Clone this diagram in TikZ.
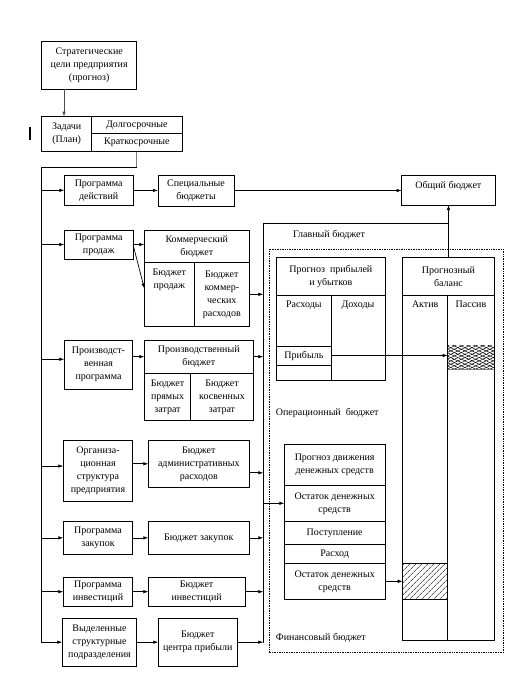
\documentclass[tikz,border=0pt]{standalone}
\usepackage{fontspec}
\setmainfont{Liberation Serif}
\usetikzlibrary{positioning, arrows.meta, patterns.meta}

\begin{document}
\begin{tikzpicture}[
  x=1pt, y=-1pt,
  font=\fontsize{10}{13}\selectfont,
  box/.style={draw, line width=0.8pt, outer sep=0pt, inner sep=1pt,
    align=center, anchor=north west},
  sz/.style 2 args={minimum width=#1pt, minimum height=#2pt},
  toptext/.style={label={[anchor=north, inner sep=1pt, yshift=-5pt,
    align=center]north:#1}},
  caption/.style={anchor=west, inner sep=0pt},
  arrow/.style={-{Latex[length=5pt, width=3.5pt]}, line width=0.7pt},
  line/.style={line width=0.7pt},
  hatch/.style={pattern={Lines[angle=45, distance=4pt, line width=0.5pt]}},
  cross/.style={pattern={Lines[angle=#1, distance=3pt, line width=0.5pt]}},
]
  \useasboundingbox (0,0) rectangle (531,677);

  \node[box, sz={95}{48}] (strat) at (41.7,41) {Стратегические\\цели предприятия\\(прогноз)};
  \node[box, sz={50}{35}] (zad) at (41.7,116.7) {Задачи\\(План)};
  \node[box, sz={90.3}{16.7}, right=0pt of zad.north east, anchor=north west] (dolg) {Долгосрочные};
  \node[box, sz={90.3}{18.3}, below=0pt of dolg.south west, anchor=north west] (krat) {Краткосрочные};

  \draw[line width=2.5pt] (30,126.5) -- (30,140);

  \node[box, sz={68.7}{30.7}] (pdeyst) at (64.3,175) {Программа\\действий};
  \node[box, sz={76}{31}, right=25pt of pdeyst.north east, anchor=north west] (spec) {Специальные\\бюджеты};
  \node[box, sz={93.3}{30}, toptext={Общий бюджет}] (obsh) at (401.7,175) {};

  \node[box, sz={68.7}{29}] (pprod) at (64.3,230) {Программа\\продаж};
  \node[box, sz={105}{32.7}, right=11.3pt of pprod.north east, anchor=north west] (komh) {Коммерческий\\бюджет};
  \node[box, sz={50}{63.3}, below=0pt of komh.south west, anchor=north west, toptext={Бюджет\\продаж}] (komA) {};
  \node[box, sz={55}{63.3}, right=0pt of komA.north east, anchor=north west] (komB) {Бюджет\\коммер-\\ческих\\расходов};

  \node[box, sz={68.4}{49.3}] (pproizv) at (64.3,340) {Производст-\\венная\\программа};
  \node[box, sz={109}{33.3}, right=11.6pt of pproizv.north east, anchor=north west] (prh) {Производственный\\бюджет};
  \node[box, sz={46.4}{47.4}, below=0pt of prh.south west, anchor=north west] (prA) {Бюджет\\прямых\\затрат};
  \node[box, sz={62.6}{47.4}, right=0pt of prA.north east, anchor=north west] (prB) {Бюджет\\косвенных\\затрат};

  \node[box, sz={69.4}{61.7}] (porg) at (63.3,440) {Организа-\\ционная\\структура\\предприятия};
  \node[box, sz={101}{47.6}, right=15.6pt of porg.north east, anchor=north west] (adm) {Бюджет\\административных\\расходов};

  \node[box, sz={69.4}{32.3}] (pzak) at (63.3,521.7) {Программа\\закупок};
  \node[box, sz={101}{32.3}, right=15.6pt of pzak.north east, anchor=north west] (bzak) {Бюджет закупок};

  \node[box, sz={69.4}{28.7}] (pinv) at (63.3,577.3) {Программа\\инвестиций};
  \node[box, sz={96.7}{28.7}, right=15.6pt of pinv.north east, anchor=north west] (binv) {Бюджет\\инвестиций};

  \node[box, sz={74.4}{47.7}] (pvyd) at (62.3,618.3) {Выделенные\\структурные\\подразделения};
  \node[box, sz={79}{47.7}, right=21.6pt of pvyd.north east, anchor=north west] (bcen) {Бюджет\\центра прибыли};

  \draw[densely dotted, line width=0.7pt] (269,249.3) rectangle (503,652.7);
  \node[caption] (tglav) at (293,235) {Главный бюджет};
  \node[caption] (toper) at (275.7,413.3) {Операционный\ \ бюджет};
  \node[caption] (tfin) at (275.7,638) {Финансовый бюджет};

  \node[box, sz={108.3}{37.7}] (ppu) at (276.7,257.3) {Прогноз\ \ прибылей\\и убытков};
  \node[box, sz={54.3}{51}, below=0pt of ppu.south west, anchor=north west, toptext=Расходы] (rash) {};
  \node[box, sz={54.3}{19}, below=0pt of rash.south west, anchor=north west] (prib) {Прибыль};
  \node[box, sz={54.3}{15}, below=0pt of prib.south west, anchor=north west] (pust1) {};
  \node[box, sz={54}{60}, right=0pt of rash.north east, anchor=north west, toptext=Доходы] (doh) {};
  \node[box, sz={54}{25}, below=0pt of doh.south west, anchor=north west] (pust2) {};

  \node[box, sz={91.6}{37.7}] (bal) at (402.7,257.3) {Прогнозный\\баланс};
  \node[box, sz={45}{345}, below=0pt of bal.south west, anchor=north west, toptext=Актив] (akt) {};
  \node[box, sz={46.6}{345}, right=0pt of akt.north east, anchor=north west, toptext=Пассив] (pas) {};
  \node[box, sz={45}{36}, hatch] (aktH) at (402.7,563.3) {};
  \node[sz={46.6}{24.3}, anchor=north west, inner sep=0pt, outer sep=0pt, cross=25] (pasH) at (447.7,345) {};
  \fill[cross=-25] (pasH.north west) rectangle (pasH.south east);
  \draw[gray, line width=1pt] (pasH.south west) -- (pasH.south east);

  \node[box, sz={100.7}{41}] (cf1) at (284.3,444.3) {Прогноз движения\\денежных средств};
  \node[box, sz={100.7}{36}, below=0pt of cf1.south west, anchor=north west] (cf2) {Остаток денежных\\средств};
  \node[box, sz={100.7}{23}, below=0pt of cf2.south west, anchor=north west] (cf3) {Поступление};
  \node[box, sz={100.7}{19}, below=0pt of cf3.south west, anchor=north west] (cf4) {Расход};
  \node[box, sz={100.7}{36}, below=0pt of cf4.south west, anchor=north west] (cf5) {Остаток денежных\\средств};

  \coordinate (bartop) at (41.7,167);
  \coordinate (brtop) at (263.3,223.3);
  \coordinate (brbot) at (263.3,643.3);

  \draw[arrow, black!70] ([xshift=22.3pt]strat.south west) -- ([xshift=22.3pt]zad.north west);
  \draw[line, gray, line width=1.2pt] (krat.south) -- (krat.south |- bartop);
  \draw[arrow] (krat.south |- bartop) -- (bartop) |- (pvyd.west);
  \draw[arrow] (bartop |- pdeyst.west) -- (pdeyst.west);
  \draw[arrow] (bartop |- pprod.west) -- (pprod.west);
  \draw[arrow] (bartop |- pproizv.west) ++(0,-5.4) -- ([yshift=5.4pt]pproizv.west);
  \draw[arrow] (bartop |- porg.west) ++(0,-4.8) -- ([yshift=4.8pt]porg.west);
  \draw[arrow] (bartop |- pzak.west) -- (pzak.west);
  \draw[arrow] (bartop |- pinv.west) -- (pinv.west);

  \draw[arrow] (pdeyst) -- (spec);
  \draw[arrow] (spec.east) -- (spec.east -| obsh.west);
  \draw[arrow] (pprod.east) -- (pprod.east -| komh.west);
  \draw[arrow] (pprod.east) -- ([yshift=6pt]komA.west);
  \draw[arrow] (prh.west -| pproizv.east) -- (prh.west);
  \draw[arrow] (adm.west -| porg.east) -- (adm.west);
  \draw[arrow] (pzak) -- (bzak);
  \draw[arrow] (pinv) -- (binv);
  \draw[arrow] (pvyd) -- (bcen);

  \draw[arrow] (komB.east) -- (komB.east -| brtop);
  \draw[arrow] (prh.east) -- (prh.east -| brtop);
  \draw[arrow] ([yshift=-9pt]adm.east) -- ([yshift=-9pt]adm.east -| brtop);
  \draw[arrow] (bzak.east) -- (bzak.east -| brtop);
  \draw[arrow] (binv.east) -- (binv.east -| brtop);
  \draw[arrow] (bcen.east) -- (bcen.east -| brtop);

  \draw[line] (brbot) -- (brtop) -- (brtop -| bal.north);
  \draw[arrow] (bal.north) -- (bal.north |- obsh.south);
  \draw[arrow] (brtop |- cf2.west) -- (cf2.west);
  \draw[arrow] (cf5.east) -- (aktH.west);
  \draw[arrow] (prib.east) -- (prib.east -| pasH.west);
\end{tikzpicture}
\end{document}
